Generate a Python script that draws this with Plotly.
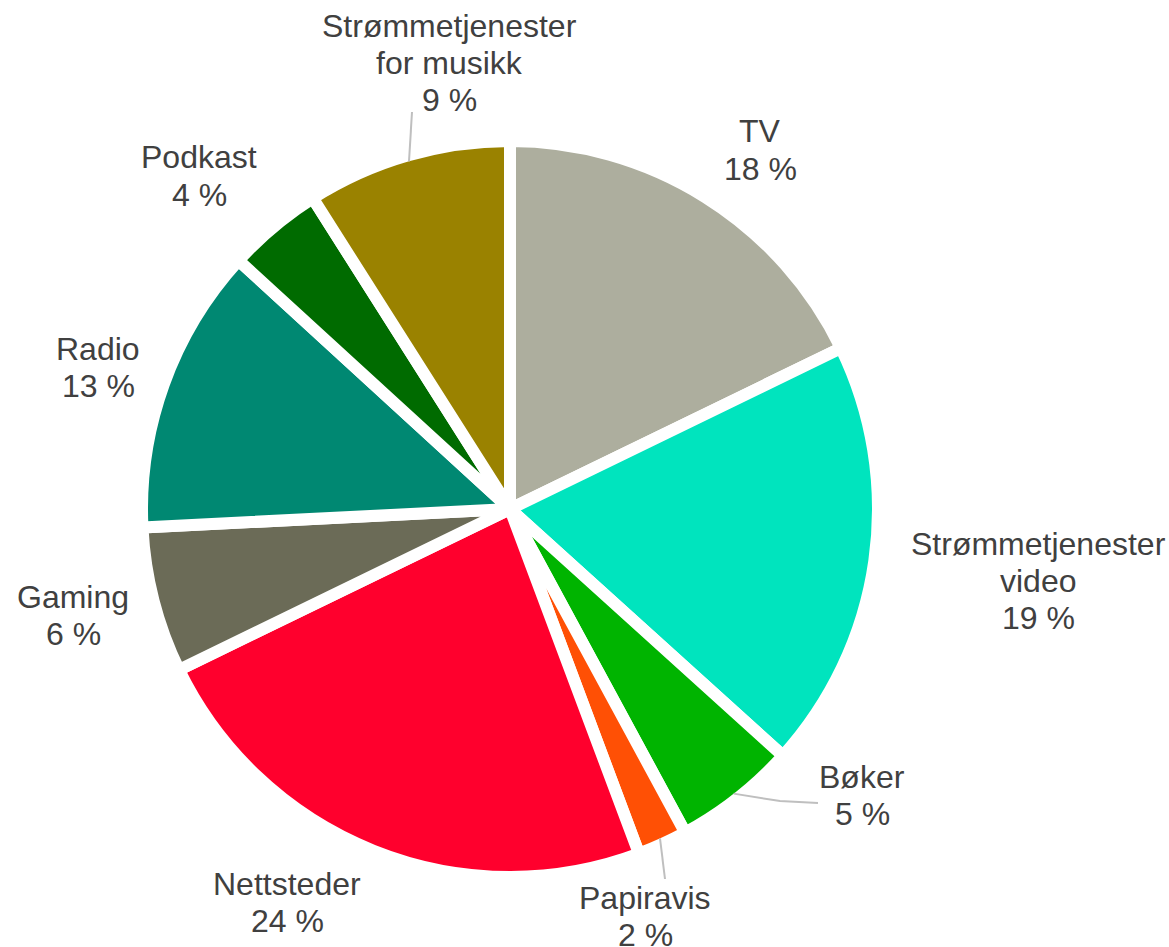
import math
import plotly.graph_objects as go

# shares (clockwise from 12 o'clock)
categories = ["TV", "Strømmetjenester<br>video", "Bøker", "Papiravis", "Nettsteder",
              "Gaming", "Radio", "Podkast", "Strømmetjenester<br>for musikk"]
shares = [17.8, 18.9, 5.4, 2.2, 23.5, 6.4, 12.6, 4.2, 9.0]
colors = ["#ADAE9E", "#00E4BE", "#00B400", "#FF5005", "#FF002D",
          "#6B6B57", "#008872", "#006B00", "#9A8200"]

W, H = 1169, 947
cx, cy, R = 510, 509, 368   # pie centre / radius in px
gap = 12                     # white separator width

# label block centres (px) and leader line end points
label_pos = [(760, 150), (1038, 581), (862, 795), (645, 916), (287, 902),
             (73, 615), (98, 367), (199, 176), (450, 63)]
leader_end = {2: [(780, 801), (818, 803)], 3: [(665, 879)], 8: [(412, 112)]}


def px2paper(x, y):
    return x / W, 1 - y / H


x0, y1 = px2paper(cx - R, cy - R)
x1, y0 = px2paper(cx + R, cy + R)

fig = go.Figure(go.Pie(
    labels=categories, values=shares, sort=False, direction="clockwise",
    rotation=0, textinfo="none", hoverinfo="label+percent",
    marker=dict(colors=colors, line=dict(color="white", width=gap)),
    domain=dict(x=[x0, x1], y=[y0, y1]),
    showlegend=False,
))

annotations = []
shapes = []
total = sum(shares)
cum = 0
for i, (cat, v) in enumerate(zip(categories, shares)):
    lines = cat.split("<br>") + [f"{round(v)} %"]
    lx, ly = label_pos[i]
    n = len(lines)
    for k, t in enumerate(lines):
        x, y = px2paper(lx, ly + (k - (n - 1) / 2) * 37)
        annotations.append(dict(x=x, y=y, xref="paper", yref="paper", text=t,
                                showarrow=False, xanchor="center", yanchor="middle",
                                font=dict(family="Liberation Sans, Arial", size=32, color="#404040")))
    mid = 2 * math.pi * (cum + v / 2) / total
    cum += v
    if i in leader_end:
        rv = R - gap / 2
        pts = [(cx + rv * math.sin(mid), cy - rv * math.cos(mid))] + leader_end[i]
        path = "M " + " L ".join("{},{}".format(*px2paper(*p)) for p in pts)
        shapes.append(dict(type="path", path=path, xref="paper", yref="paper",
                           line=dict(color="#BFBFBF", width=2)))

fig.update_layout(
    width=W, height=H, margin=dict(l=0, r=0, t=0, b=0),
    paper_bgcolor="white", plot_bgcolor="white",
    annotations=annotations, shapes=shapes,
)

# drop the default page margin so the figure sits at the window corner
fig.write_html("out.html", config={"displayModeBar": False},
               post_script="document.body.style.margin='0';document.body.style.overflow='hidden';")
